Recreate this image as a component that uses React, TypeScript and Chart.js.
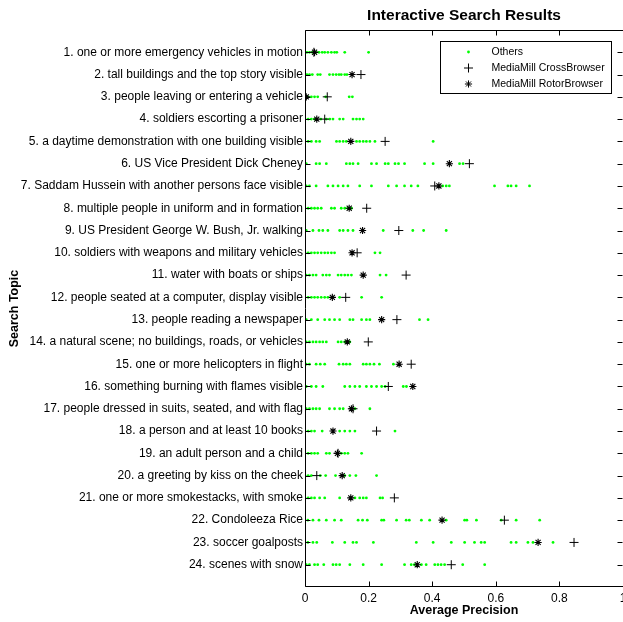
import { useEffect, useRef } from 'react';
import { Chart, registerables } from 'chart.js';

Chart.register(...registerables);

const chartTitle = 'Interactive Search Results';
const xAxisTitle = 'Average Precision';
const yAxisTitle = 'Search Topic';
const legendLabels = ['Others', 'MediaMill CrossBrowser', 'MediaMill RotorBrowser'];
const xTickValues = [0, 0.2, 0.4, 0.6, 0.8, 1];
const xTickLabels = ['0', '0.2', '0.4', '0.6', '0.8', '1'];

const topics = [
  '1. one or more emergency vehicles in motion',
  '2. tall buildings and the top story visible',
  '3. people leaving or entering a vehicle',
  '4. soldiers escorting a prisoner',
  '5. a daytime demonstration with one building visible',
  '6. US Vice President Dick Cheney',
  '7. Saddam Hussein with another persons face visible',
  '8. multiple people in uniform and in formation',
  '9. US President George W. Bush, Jr. walking',
  '10. soldiers with weapons and military vehicles',
  '11. water with boats or ships',
  '12. people seated at a computer, display visible',
  '13. people reading a newspaper',
  '14. a natural scene; no buildings, roads, or vehicles',
  '15. one or more helicopters in flight',
  '16. something burning with flames visible',
  '17. people dressed in suits, seated, and with flag',
  '18. a person and at least 10 books',
  '19. an adult person and a child',
  '20. a greeting by kiss on the cheek',
  '21. one or more smokestacks, with smoke',
  '22. Condoleeza Rice',
  '23. soccer goalposts',
  '24. scenes with snow',
];

const crossBrowserAP = [
  0.028, 0.176, 0.07, 0.062, 0.252, 0.517, 0.408, 0.194, 0.295, 0.164, 0.318, 0.128,
  0.289, 0.199, 0.334, 0.262, 0.151, 0.225, 0.104, 0.037, 0.281, 0.627, 0.846, 0.46,
];

const rotorBrowserAP = [
  0.03, 0.148, 0.004, 0.037, 0.144, 0.454, 0.421, 0.139, 0.181, 0.148, 0.183, 0.086,
  0.241, 0.133, 0.296, 0.339, 0.146, 0.088, 0.102, 0.117, 0.144, 0.431, 0.733, 0.353,
];

const othersAP = [
  [0, 0.006, 0.014, 0.023, 0.035, 0.044, 0.054, 0.062, 0.072, 0.083, 0.093, 0.1, 0.125, 0.2],
  [0, 0.006, 0.014, 0.023, 0.04, 0.048, 0.077, 0.088, 0.098, 0.107, 0.114, 0.125, 0.132],
  [0, 0.01, 0.02, 0.03, 0.04, 0.065, 0.139, 0.149],
  [0, 0.01, 0.02, 0.03, 0.05, 0.067, 0.078, 0.088, 0.109, 0.12, 0.151, 0.162, 0.172, 0.183],
  [0, 0.01, 0.02, 0.035, 0.046, 0.099, 0.109, 0.12, 0.13, 0.162, 0.172, 0.183, 0.193, 0.204, 0.22, 0.403],
  [0.004, 0.035, 0.046, 0.067, 0.13, 0.141, 0.151, 0.167, 0.209, 0.225, 0.252, 0.262, 0.283, 0.294, 0.313, 0.376, 0.403, 0.486, 0.497],
  [0.004, 0.014, 0.035, 0.072, 0.088, 0.104, 0.12, 0.135, 0.172, 0.209, 0.262, 0.288, 0.313, 0.334, 0.355, 0.433, 0.444, 0.454, 0.596, 0.638, 0.648, 0.664, 0.706],
  [0, 0.01, 0.02, 0.03, 0.04, 0.051, 0.083, 0.093, 0.114, 0.125, 0.135, 0.146],
  [0.004, 0.025, 0.044, 0.056, 0.072, 0.109, 0.12, 0.135, 0.151, 0.246, 0.339, 0.373, 0.444],
  [0, 0.01, 0.02, 0.03, 0.04, 0.051, 0.062, 0.072, 0.083, 0.093, 0.22, 0.236],
  [0.004, 0.014, 0.025, 0.035, 0.056, 0.067, 0.077, 0.104, 0.114, 0.125, 0.135, 0.146, 0.236, 0.255],
  [0, 0.01, 0.02, 0.03, 0.04, 0.051, 0.062, 0.072, 0.109, 0.178, 0.241],
  [0.004, 0.02, 0.04, 0.062, 0.077, 0.093, 0.109, 0.141, 0.151, 0.178, 0.193, 0.204, 0.36, 0.387],
  [0.004, 0.014, 0.025, 0.035, 0.046, 0.056, 0.067, 0.104, 0.114, 0.125, 0.141],
  [0.004, 0.014, 0.035, 0.048, 0.062, 0.107, 0.12, 0.13, 0.141, 0.183, 0.193, 0.204, 0.217, 0.234, 0.278],
  [0.004, 0.02, 0.035, 0.056, 0.125, 0.141, 0.157, 0.172, 0.193, 0.209, 0.225, 0.241, 0.252, 0.309, 0.319],
  [0.004, 0.014, 0.025, 0.035, 0.046, 0.077, 0.093, 0.109, 0.12, 0.157, 0.204],
  [0, 0.01, 0.02, 0.03, 0.054, 0.109, 0.125, 0.141, 0.157, 0.283],
  [0, 0.01, 0.02, 0.03, 0.04, 0.067, 0.077, 0.114, 0.125, 0.135, 0.178],
  [0, 0.01, 0.02, 0.048, 0.065, 0.096, 0.125, 0.141, 0.16, 0.225],
  [0, 0.01, 0.02, 0.03, 0.046, 0.062, 0.109, 0.157, 0.172, 0.183, 0.193, 0.236, 0.244],
  [0.009, 0.025, 0.044, 0.067, 0.093, 0.114, 0.167, 0.181, 0.196, 0.241, 0.248, 0.288, 0.318, 0.328, 0.366, 0.392, 0.444, 0.502, 0.509, 0.539, 0.617, 0.664, 0.738],
  [0.009, 0.025, 0.037, 0.086, 0.125, 0.151, 0.162, 0.215, 0.35, 0.403, 0.46, 0.502, 0.533, 0.554, 0.565, 0.648, 0.664, 0.701, 0.717, 0.78],
  [0.004, 0.014, 0.03, 0.04, 0.059, 0.088, 0.098, 0.109, 0.141, 0.183, 0.241, 0.313, 0.334, 0.344, 0.366, 0.381, 0.408, 0.418, 0.428, 0.439, 0.496, 0.565],
];

const GREEN = '#00ff00';
const FONT = '"Liberation Sans", Arial, Helvetica, sans-serif';

function drawMarker(ctx: CanvasRenderingContext2D, kind: number, x: number, y: number) {
  ctx.save();
  ctx.strokeStyle = '#000';
  ctx.lineWidth = 1;
  if (kind === 0) {
    ctx.fillStyle = GREEN;
    ctx.beginPath();
    ctx.arc(x, y, 1.4, 0, Math.PI * 2);
    ctx.fill();
  } else if (kind === 1) {
    const r = 4.5;
    ctx.beginPath();
    ctx.moveTo(x - r, y);
    ctx.lineTo(x + r, y);
    ctx.moveTo(x, y - r);
    ctx.lineTo(x, y + r);
    ctx.stroke();
  } else {
    const r = 3.6;
    ctx.beginPath();
    for (let k = 0; k < 4; k++) {
      const a = (k * Math.PI) / 4;
      ctx.moveTo(x - r * Math.cos(a), y - r * Math.sin(a));
      ctx.lineTo(x + r * Math.cos(a), y + r * Math.sin(a));
    }
    ctx.stroke();
  }
  ctx.restore();
}

const matlabPlugin = {
  id: 'matlabFrame',
  afterDatasetsDraw(chart: any) {
    const { ctx, chartArea: a, scales } = chart;
    ctx.save();
    ctx.strokeStyle = '#000';
    ctx.lineWidth = 1;
    const L = Math.round(a.left) + 0.5;
    const T = Math.round(a.top) + 0.5;
    const B = Math.round(a.bottom) - 0.5;
    const R = Math.round(a.right) + 0.5;
    ctx.beginPath();
    ctx.moveTo(L, T);
    ctx.lineTo(R, T);
    ctx.lineTo(R, B);
    ctx.lineTo(L, B);
    ctx.closePath();
    ctx.stroke();
    const tl = 5;
    ctx.beginPath();
    xTickValues.forEach((v) => {
      const px = Math.round(scales.x.getPixelForValue(v)) + 0.5;
      ctx.moveTo(px, T);
      ctx.lineTo(px, T + tl);
      ctx.moveTo(px, B);
      ctx.lineTo(px, B - tl);
    });
    topics.forEach((_, i) => {
      const py = Math.round(scales.y.getPixelForValue(i + 1)) + 0.5;
      ctx.moveTo(L, py);
      ctx.lineTo(L + tl, py);
      ctx.moveTo(a.right - 0.5, py);
      ctx.lineTo(a.right - 0.5 - tl, py);
    });
    ctx.stroke();
    ctx.restore();
  },
  afterDraw(chart: any) {
    const { ctx, chartArea: a } = chart;
    ctx.save();
    ctx.fillStyle = '#000';
    ctx.font = `bold 15.5px ${FONT}`;
    ctx.textAlign = 'center';
    ctx.textBaseline = 'middle';
    ctx.fillText(chartTitle, (a.left + a.right) / 2, 15.5);
    const bw = 171;
    const bh = 52;
    const bx = Math.round(a.right - 12 - bw) + 0.5;
    const by = Math.round(a.top + 11) + 0.5;
    ctx.fillStyle = '#fff';
    ctx.fillRect(bx, by, bw, bh);
    ctx.strokeStyle = '#000';
    ctx.lineWidth = 1;
    ctx.strokeRect(bx, by, bw, bh);
    ctx.font = `10.5px ${FONT}`;
    ctx.textAlign = 'left';
    ctx.textBaseline = 'middle';
    legendLabels.forEach((lab, i) => {
      const yy = by + 10.5 + i * 16;
      drawMarker(ctx, i, bx + 28, yy);
      ctx.fillStyle = '#000';
      ctx.fillText(lab, bx + 51, yy + 0.5);
    });
    ctx.restore();
  },
};

export default function App() {
  const ref = useRef<HTMLCanvasElement | null>(null);
  useEffect(() => {
    if (!ref.current) return;
    const othersPoints: { x: number; y: number }[] = [];
    othersAP.forEach((row, i) => row.forEach((v) => othersPoints.push({ x: v, y: i + 1 })));
    const crossPoints = crossBrowserAP.map((v, i) => ({ x: v, y: i + 1 }));
    const rotorPoints = rotorBrowserAP.map((v, i) => ({ x: v, y: i + 1 }));

    const chart = new Chart(ref.current, {
      type: 'scatter',
      data: {
        datasets: [
          {
            label: legendLabels[0],
            data: othersPoints,
            pointStyle: 'circle',
            pointRadius: 1.4,
            pointBorderWidth: 0,
            backgroundColor: GREEN,
            borderColor: GREEN,
            order: 3,
          },
          {
            label: legendLabels[1],
            data: crossPoints,
            pointStyle: 'cross',
            pointRadius: 4.5,
            pointBorderWidth: 1,
            borderColor: '#000',
            backgroundColor: '#000',
            order: 2,
          },
          {
            label: legendLabels[2],
            data: rotorPoints,
            pointStyle: 'star',
            pointRadius: 3.6,
            pointBorderWidth: 1.1,
            borderColor: '#000',
            backgroundColor: '#000',
            order: 1,
          },
        ],
      },
      options: {
        responsive: false,
        animation: false,
        events: [],
        layout: { autoPadding: false, padding: { top: 30, left: 0, right: 0, bottom: 0 } },
        plugins: {
          legend: { display: false },
          title: { display: false },
          tooltip: { enabled: false },
        },
        scales: {
          x: {
            type: 'linear',
            min: 0,
            max: 1,
            grid: { display: false, drawTicks: false },
            border: { display: false },
            afterBuildTicks: (s: any) => {
              s.ticks = xTickValues.map((v) => ({ value: v }));
            },
            afterFit: (s: any) => {
              s.height = 35;
              s.paddingLeft = 0;
              s.paddingRight = 0;
              s.paddingTop = 0;
              s.paddingBottom = 0;
            },
            ticks: {
              autoSkip: false,
              maxRotation: 0,
              padding: 4,
              color: '#000',
              font: { family: FONT, size: 12 },
              callback: (v: any) => {
                const idx = xTickValues.indexOf(Number(v));
                return idx >= 0 ? xTickLabels[idx] : '';
              },
            },
            title: {
              display: true,
              text: xAxisTitle,
              color: '#000',
              font: { family: FONT, size: 12.5, weight: 'bold' },
              padding: { top: 0, bottom: 4 },
            },
          },
          y: {
            type: 'linear',
            min: 0,
            max: topics.length + 1,
            reverse: true,
            grid: { display: false, drawTicks: false },
            border: { display: false },
            afterBuildTicks: (s: any) => {
              s.ticks = topics.map((_, i) => ({ value: i + 1 }));
            },
            afterFit: (s: any) => {
              s.width = 305;
              s.paddingLeft = 0;
              s.paddingRight = 0;
              s.paddingTop = 0;
              s.paddingBottom = 0;
            },
            ticks: {
              autoSkip: false,
              padding: 2,
              color: '#000',
              font: { family: FONT, size: 12 },
              callback: (v: any) => topics[Number(v) - 1] ?? '',
            },
            title: {
              display: true,
              text: yAxisTitle,
              color: '#000',
              font: { family: FONT, size: 12.5, weight: 'bold' },
              padding: { top: 7.5, bottom: 0 },
            },
          },
        },
      },
      plugins: [matlabPlugin],
    });
    return () => chart.destroy();
  }, []);

  return (
    <div style={{ position: 'absolute', left: 0, top: 0, width: 623, height: 622, background: '#fff' }}>
      <canvas ref={ref} width={623} height={622} style={{ display: 'block' }} />
    </div>
  );
}
